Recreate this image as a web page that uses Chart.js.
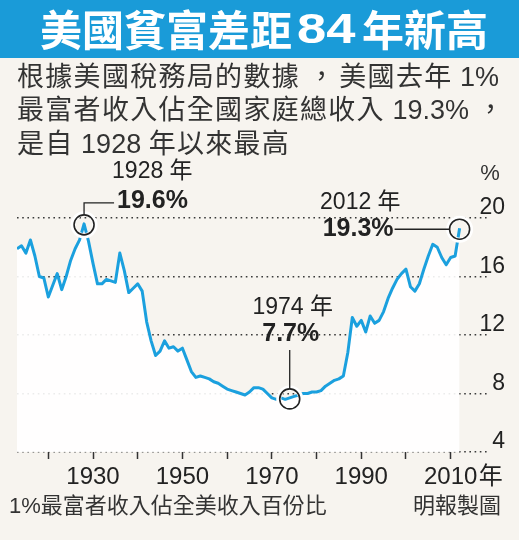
<!DOCTYPE html>
<html>
<head>
<meta charset="utf-8">
<script src="https://cdn.jsdelivr.net/npm/chart.js@4.4.1/dist/chart.umd.min.js"></script>
<style>
  html, body { margin: 0; padding: 0; background: #f7f4ef; }
  #wrap { width: 519px; height: 540px; }
</style>
</head>
<body>
<div id="wrap"><canvas id="myChart" width="519" height="540"></canvas></div>
<script>
// top 1% share of US income, 1913-2012 (%)
const years = [];
for (let y = 1913; y <= 2012; y++) years.push(y);
const share = [
  17.9, 18.1, 17.6, 18.5, 17.4, 16.0, 15.9, 14.6, 15.4, 16.2, // 1913-1922
  15.1, 16.0, 17.1, 17.9, 18.5, 19.6, 18.4, 16.9, 15.5, 15.5, // 1923-1932
  15.8, 15.7, 15.6, 17.6, 16.4, 14.9, 15.2, 15.5, 15.0, 12.9, // 1933-1942
  11.6, 10.6, 10.9, 11.6, 11.1, 11.2, 10.9, 11.1, 10.3, 9.5,  // 1943-1952
  9.1, 9.2, 9.1, 9.0, 8.8, 8.7, 8.5, 8.3, 8.2, 8.1,           // 1953-1962
  8.0, 7.9, 8.1, 8.4, 8.4, 8.3, 8.0, 7.7, 7.6, 7.7,           // 1963-1972
  7.6, 7.7, 7.8, 7.9, 8.0, 8.0, 8.1, 8.1, 8.2, 8.5,           // 1973-1982
  8.7, 8.9, 9.0, 9.2, 10.8, 13.2, 12.6, 13.0, 12.2, 13.3,     // 1983-1992
  12.8, 13.0, 13.6, 14.5, 15.2, 15.8, 16.2, 16.5, 15.3, 15.0, // 1993-2002
  15.5, 16.5, 17.4, 18.2, 18.0, 17.3, 16.8, 17.3, 17.4, 19.3  // 2003-2012
];
const decadeTicks = [1920, 1930, 1940, 1950, 1960, 1970, 1980, 1990, 2000, 2010];
const labelledYears = [1930, 1950, 1970, 1990, 2010];
const yTicks = [4, 8, 12, 16, 20];

// highlighted points
const highlights = [
  { year: 1928, value: 19.6, side: "right" },
  { year: 1974, value: 7.7, side: "up" },
  { year: 2012, value: 19.3, side: "left" }
];

const intro = [
  "根據美國稅務局的數據，美國去年 1%",
  "最富者收入佔全國家庭總收入 19.3%，",
  "是自 1928 年以來最高"
];
const footLeft = "1%最富者收入佔全美收入百份比";
const footRight = "明報製圖";

const FONT = '"Liberation Sans", "Noto Sans CJK TC", sans-serif';
const BLUE = "#1ba0de";

// CJK glyphs get a little extra tracking, latin runs stay as they are
function drawTracked(ctx, text, x, y) {
  for (const ch of text) {
    const cjk = ch.codePointAt(0) >= 0x2e80;
    let w = ctx.measureText(ch).width;
    if (cjk) w += 1.3;
    if (ch === "，") {
      // comma sits in the middle of a wider gap
      ctx.fillText(ch, x + 8, y);
      w += 11;
    } else {
      ctx.fillText(ch, x, y);
    }
    x += w;
  }
}

const decorPlugin = {
  id: "decor",
  beforeDraw(chart) {
    const ctx = chart.ctx;
    ctx.save();
    ctx.fillStyle = "#f7f4ef";
    ctx.fillRect(0, 0, chart.width, chart.height);
    // title bar
    ctx.fillStyle = "#1a9bd8";
    ctx.fillRect(0, 0, chart.width, 58);
    ctx.fillStyle = "#fff";
    ctx.textBaseline = "middle";
    ctx.textAlign = "left";
    ctx.font = 'bold 42px "Noto Sans CJK TC", sans-serif';
    ctx.fillText("美國貧富差距", 40, 30);
    ctx.save();
    ctx.translate(297, 31);
    ctx.scale(1.25, 1);
    ctx.font = 'bold 42px "Liberation Sans", sans-serif';
    ctx.fillText("84", 0, 0);
    ctx.restore();
    ctx.font = 'bold 42px "Noto Sans CJK TC", sans-serif';
    ctx.fillText("年新高", 362, 30);
    // intro text
    ctx.fillStyle = "#333";
    ctx.font = "27px " + FONT;
    const introY = [79, 112, 146];
    intro.forEach((t, i) => drawTracked(ctx, t, 17, introY[i]));
    // footer
    ctx.font = "22px " + FONT;
    ctx.fillText(footLeft, 9, 507);
    ctx.textAlign = "right";
    ctx.fillText(footRight, 501, 507);
    // % unit
    ctx.textAlign = "center";
    ctx.fillText("%", 490, 174);
    ctx.restore();
  },
  afterDraw(chart) {
    const ctx = chart.ctx;
    const xs = chart.scales.x, ys = chart.scales.y;
    ctx.save();
    // 年 after last tick label
    ctx.fillStyle = "#222";
    ctx.font = "24px " + FONT;
    ctx.textBaseline = "middle";
    ctx.textAlign = "left";
    ctx.fillText("年", xs.getPixelForValue(2010) + 28, 477);

    const r = 10;
    highlights.forEach(h => {
      const cx = xs.getPixelForValue(h.year);
      const cy = ys.getPixelForValue(h.value) + 1;
      // gap ring then dark ring
      ctx.lineWidth = 5;
      ctx.strokeStyle = "#fff";
      ctx.beginPath(); ctx.arc(cx, cy, r + 1, 0, Math.PI * 2); ctx.stroke();
      ctx.lineWidth = 1.6;
      ctx.strokeStyle = "#222";
      ctx.beginPath(); ctx.arc(cx, cy, r, 0, Math.PI * 2); ctx.stroke();
      ctx.lineWidth = 1.3;
      ctx.beginPath();
      ctx.fillStyle = "#222";
      const yearTxt = h.year + " 年";
      const valTxt = h.value.toFixed(1) + "%";
      if (h.side === "right") {
        ctx.moveTo(cx, cy - r);
        ctx.lineTo(cx, cy - 22);
        ctx.lineTo(cx + 30, cy - 22);
        ctx.stroke();
        ctx.textAlign = "left";
        ctx.font = "bold 25px " + FONT;
        ctx.fillText(valTxt, cx + 33, cy - 24);
        ctx.font = "23px " + FONT;
        ctx.fillText(yearTxt, cx + 28, cy - 53);
      } else if (h.side === "left") {
        ctx.moveTo(cx - r, cy);
        ctx.lineTo(cx - 65, cy);
        ctx.stroke();
        ctx.textAlign = "right";
        ctx.font = "bold 25px " + FONT;
        ctx.fillText(valTxt, cx - 66, cy);
        ctx.font = "23px " + FONT;
        ctx.fillText(yearTxt, cx - 59, cy - 27);
      } else {
        ctx.moveTo(cx, cy - r);
        ctx.lineTo(cx, cy - 49);
        ctx.stroke();
        ctx.textAlign = "center";
        ctx.font = "bold 25px " + FONT;
        ctx.fillText(valTxt, cx + 1, cy - 65);
        ctx.font = "23px " + FONT;
        ctx.fillText(yearTxt, cx + 3, cy - 91);
      }
    });
    ctx.restore();
  }
};

new Chart(document.getElementById("myChart"), {
  type: "line",
  data: {
    datasets: [{
      data: years.map((y, i) => ({ x: y, y: share[i] })),
      borderColor: BLUE,
      borderWidth: 3,
      pointRadius: 0,
      tension: 0,
      borderJoinStyle: "round",
      fill: "start",
      backgroundColor: "rgba(255,255,255,0.9)"
    }]
  },
  options: {
    responsive: false,
    animation: false,
    layout: { padding: { left: 17, right: 14, top: 218, bottom: 0 } },
    plugins: {
      legend: { display: false },
      tooltip: { enabled: false }
    },
    scales: {
      x: {
        type: "linear",
        min: 1913,
        max: 2018.8,
        afterBuildTicks: s => { s.ticks = decadeTicks.map(v => ({ value: v })); },
        afterFit: s => { s.height = 88; },
        border: { display: false },
        grid: {
          drawOnChartArea: false,
          drawTicks: true,
          tickLength: 7,
          tickColor: "#333",
          tickWidth: 1.5
        },
        ticks: {
          autoSkip: false,
          maxRotation: 0,
          padding: 4,
          color: "#222",
          font: { family: FONT, size: 24 },
          callback: v => labelledYears.includes(v) ? String(v) : ""
        }
      },
      y: {
        position: "right",
        min: 4,
        max: 20,
        afterBuildTicks: s => { s.ticks = yTicks.map(v => ({ value: v })); },
        afterFit: s => { s.width = 15; },
        border: { display: false, dash: [1.6, 3.6] },
        grid: {
          color: "#3a3a3a",
          lineWidth: 1.6,
          drawTicks: false
        },
        ticks: {
          mirror: true,
          crossAlign: "near",
          padding: 15,
          labelOffset: -10,
          color: "#222",
          font: { family: FONT, size: 23 }
        }
      }
    }
  },
  plugins: [decorPlugin]
});
</script>
</body>
</html>
